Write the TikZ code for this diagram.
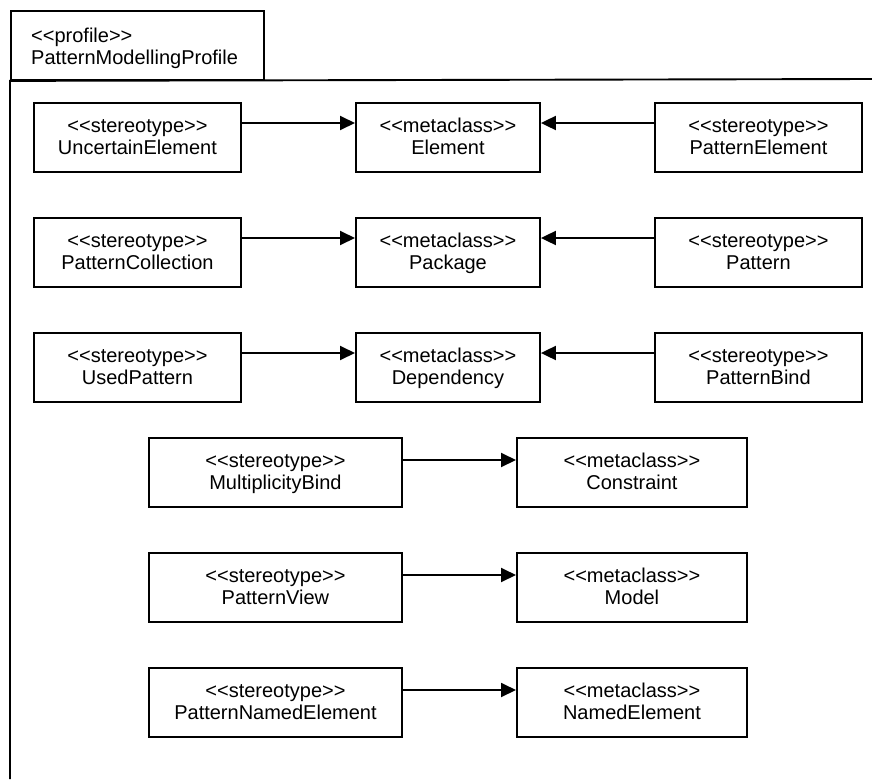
\documentclass[tikz,border=0pt]{standalone}
\usepackage{fontspec}
\setmainfont{Liberation Sans}
\usetikzlibrary{arrows.meta}
\begin{document}
\begin{tikzpicture}[x=1pt,y=-1pt,
  every node/.style={font=\fontsize{20}{22}\selectfont},
  umlbox/.style={draw, line width=1.9pt, minimum width=#1, minimum height=69pt,
    inner sep=0pt, anchor=north west},
  boxtext/.style={align=center, inner sep=0pt, anchor=base},
  frameline/.style={line width=1.9pt},
  assoc/.style={line width=1.9pt, -{Triangle[length=15pt,width=14pt]}}
]
\useasboundingbox (0,0) rectangle (872,779);
% package frame
\node[draw, line width=1.9pt, minimum width=253pt, minimum height=69pt, inner sep=0pt, anchor=north west] (tab) at (10,10) {};
\node[align=left, inner sep=0pt, anchor=base west] (tabtext) at (31,64) {<{}<profile>{}>\\PatternModellingProfile};
\coordinate (fr) at (872,79);
\coordinate (fb) at (10,779);
\draw[frameline] (fr) -- (tab.south west) -- (fb);

% row 1
\node[umlbox=207pt] (ue) at (33,102) {};
\node[umlbox=184pt] (el) at (355,102) {};
\node[umlbox=207pt] (pe) at (654,102) {};
% row 2
\node[umlbox=207pt] (pc) at (33,217) {};
\node[umlbox=184pt] (pk) at (355,217) {};
\node[umlbox=207pt] (pt) at (654,217) {};
% row 3
\node[umlbox=207pt] (up) at (33,332) {};
\node[umlbox=184pt] (dp) at (355,332) {};
\node[umlbox=207pt] (pb) at (654,332) {};
% rows 4-6
\node[umlbox=253pt] (mb) at (148,437) {};
\node[umlbox=230pt] (cn) at (516,437) {};
\node[umlbox=253pt] (pv) at (148,552) {};
\node[umlbox=230pt] (md) at (516,552) {};
\node[umlbox=253pt] (pn) at (148,667) {};
\node[umlbox=230pt] (ne) at (516,667) {};

% texts
\foreach \b/\k/\n in {ue/stereotype/UncertainElement, el/metaclass/Element, pe/stereotype/PatternElement,
  pc/stereotype/PatternCollection, pk/metaclass/Package, pt/stereotype/Pattern,
  up/stereotype/UsedPattern, dp/metaclass/Dependency, pb/stereotype/PatternBind,
  mb/stereotype/MultiplicityBind, cn/metaclass/Constraint,
  pv/stereotype/PatternView, md/metaclass/Model,
  pn/stereotype/PatternNamedElement, ne/metaclass/NamedElement}
  \node[boxtext] (\b-t) at ([yshift=-52pt]\b.north) {<{}<\k>{}>\\\n};

% connectors
\foreach \s/\t in {ue/el, pc/pk, up/dp}
  \draw[assoc] ([yshift=-21pt]\s.north east) -- ([yshift=-21pt]\t.north west);
\foreach \s/\t in {pe/el, pt/pk, pb/dp}
  \draw[assoc] ([yshift=-21pt]\s.north west) -- ([yshift=-21pt]\t.north east);
\foreach \s/\t in {mb/cn, pv/md, pn/ne}
  \draw[assoc] ([yshift=-23pt]\s.north east) -- ([yshift=-23pt]\t.north west);
\end{tikzpicture}
\end{document}
